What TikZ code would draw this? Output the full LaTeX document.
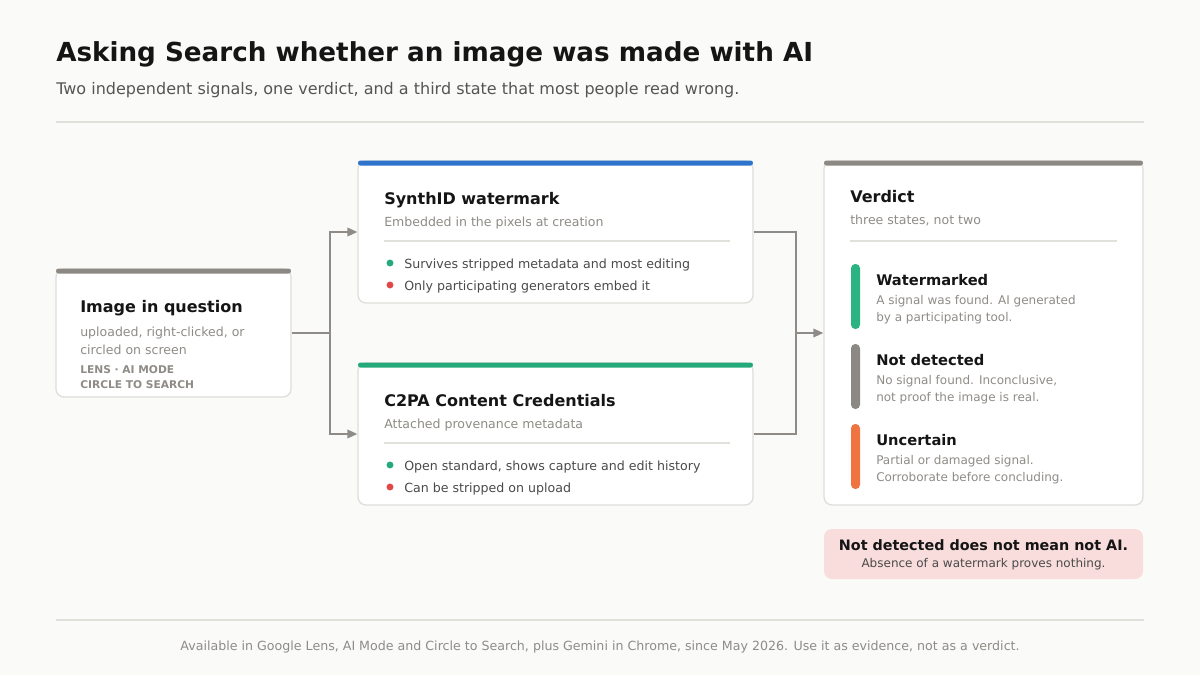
\documentclass[tikz,border=0pt]{standalone}
\usepackage{fontspec}
\setmainfont{DejaVu Sans}
\usetikzlibrary{arrows.meta}
\definecolor{bg}{HTML}{FAFAF8}
\definecolor{rulec}{HTML}{E2E0DB}
\definecolor{border}{HTML}{E0DED9}
\definecolor{ink}{HTML}{151515}
\definecolor{subc}{HTML}{555555}
\definecolor{muted}{HTML}{8F8C87}
\definecolor{bodyc}{HTML}{4A4A4A}
\definecolor{linec}{HTML}{8F8C87}
\definecolor{bargray}{HTML}{8C8984}
\definecolor{blueb}{HTML}{2F74CC}
\definecolor{greenb}{HTML}{24A97B}
\definecolor{greens}{HTML}{2BB383}
\definecolor{redd}{HTML}{E04848}
\definecolor{orangeb}{HTML}{EE7442}
\definecolor{pinkb}{HTML}{F9DCDC}
\tikzset{
  card/.style={draw=border, fill=white, rounded corners=6pt, line width=1pt, inner sep=0pt},
  ttl/.style={anchor=mid west, text=ink, font=\bfseries\fontsize{12}{14}\selectfont, inner sep=0pt, yshift=-2.25pt},
  sttl/.style={anchor=mid west, text=ink, font=\bfseries\fontsize{11}{13}\selectfont, inner sep=0pt, yshift=-2.25pt},
  desc/.style={anchor=mid west, text=muted, font=\fontsize{9.4}{12}\selectfont, inner sep=0pt, yshift=-1.5pt},
  sdesc/.style={anchor=mid west, text=muted, font=\fontsize{9}{11}\selectfont, inner sep=0pt, yshift=-1.5pt},
  body/.style={anchor=mid west, text=bodyc, font=\fontsize{9.45}{12}\selectfont, inner sep=0pt, yshift=-1.5pt},
  tag/.style={anchor=mid west, text=muted, font=\bfseries\fontsize{8}{9}\selectfont, inner sep=0pt, yshift=-0.75pt},
  conn/.style={draw=linec, line width=1.1pt},
  arr/.style={conn, -{Triangle[length=7.5pt,width=6.5pt]}},
}
\begin{document}
\begin{tikzpicture}[x=0.75pt,y=-0.75pt]
\fill[bg] (0,0) rectangle (1200,675);
\useasboundingbox (0,0) rectangle (1200,675);
% header
\node[anchor=mid west, text=ink, font=\bfseries\fontsize{19.65}{22}\selectfont, inner sep=0pt, yshift=-3.75pt] (title) at (56,53) {Asking Search whether an image was made with AI};
\node[anchor=mid west, text=subc, font=\fontsize{12}{14}\selectfont, inner sep=0pt, yshift=-2.25pt] (subtitle) at (56,88) {Two independent signals, one verdict, and a third state that most people read wrong.};
\draw[rulec, line width=1pt] (56,122) -- (1144,122);
\draw[rulec, line width=1pt] (56,620) -- (1144,620);
\node[anchor=mid, text=muted, font=\fontsize{9.47}{12}\selectfont, inner sep=0pt, yshift=-1.5pt] (footer) at (600,645) {Available in Google Lens, AI Mode and Circle to Search, plus Gemini in Chrome, since May 2026. Use it as evidence, not as a verdict.};

% cards
\node[card, minimum width=235*0.75pt, minimum height=128*0.75pt] (img) at (173.5,333) {};
\node[card, minimum width=395*0.75pt, minimum height=142*0.75pt] (synth) at (555.5,232) {};
\node[card, minimum width=395*0.75pt, minimum height=142*0.75pt] (c2pa) at (555.5,434) {};
\node[card, minimum width=319*0.75pt, minimum height=344*0.75pt] (verdict) at (983.5,333) {};
\node[fill=pinkb, rounded corners=6pt, minimum width=319*0.75pt, minimum height=50*0.75pt, inner sep=0pt] (note) at (983.5,554) {};

% top bars
\fill[bargray, rounded corners=1.8pt] (56,268.5) rectangle (291,273.5);
\fill[blueb, rounded corners=1.8pt] (358,160.5) rectangle (753,165.5);
\fill[greenb, rounded corners=1.8pt] (358,362.5) rectangle (753,367.5);
\fill[bargray, rounded corners=1.8pt] (824,160.5) rectangle (1143,165.5);

% image card text
\node[ttl] (imgt) at (80,306) {Image in question};
\node[desc] (imgd1) at (80,331) {uploaded, right-clicked, or};
\node[desc] (imgd2) at (80,349) {circled on screen};
\node[tag] (imgg1) at (80,369) {LENS · AI MODE};
\node[tag] (imgg2) at (80,384) {CIRCLE TO SEARCH};

% synth text
\node[ttl] (synt) at (384,198) {SynthID watermark};
\node[desc] (synd) at (384,221) {Embedded in the pixels at creation};
\draw[rulec, line width=1pt] (384,241) -- (730,241);
\fill[greenb] (390,263) circle[radius=2.6pt];
\node[body] (synb1) at (404,263) {Survives stripped metadata and most editing};
\fill[redd] (390,285) circle[radius=2.6pt];
\node[body] (synb2) at (404,285) {Only participating generators embed it};

% c2pa text
\node[ttl] (c2t) at (384,400) {C2PA Content Credentials};
\node[desc] (c2d) at (384,423) {Attached provenance metadata};
\draw[rulec, line width=1pt] (384,443) -- (730,443);
\fill[greenb] (390,465) circle[radius=2.6pt];
\node[body] (c2b1) at (404,465) {Open standard, shows capture and edit history};
\fill[redd] (390,487) circle[radius=2.6pt];
\node[body] (c2b2) at (404,487) {Can be stripped on upload};

% verdict text
\node[ttl] (vt) at (850,196) {Verdict};
\node[desc] (vd) at (850,219) {three states, not two};
\draw[rulec, line width=1pt] (850,241) -- (1117,241);
\fill[greens, rounded corners=3.2pt] (851,264) rectangle (860,329);
\node[sttl] (s1t) at (876,279) {Watermarked};
\node[sdesc] (s1a) at (876,299) {A signal was found. AI generated};
\node[sdesc] (s1b) at (876,316) {by a participating tool.};
\fill[bargray, rounded corners=3.2pt] (851,344) rectangle (860,409);
\node[sttl] (s2t) at (876,359) {Not detected};
\node[sdesc] (s2a) at (876,379) {No signal found. Inconclusive,};
\node[sdesc] (s2b) at (876,396) {not proof the image is real.};
\fill[orangeb, rounded corners=3.2pt] (851,424) rectangle (860,489);
\node[sttl] (s3t) at (876,439) {Uncertain};
\node[sdesc] (s3a) at (876,459) {Partial or damaged signal.};
\node[sdesc] (s3b) at (876,476) {Corroborate before concluding.};

% note text
\node[anchor=mid, text=ink, font=\bfseries\fontsize{10.75}{13}\selectfont, inner sep=0pt, yshift=-1.5pt] (nt) at (983.5,545) {Not detected does not mean not AI.};
\node[anchor=mid, text=bodyc, font=\fontsize{9}{11}\selectfont, inner sep=0pt, yshift=-0.75pt] (nd) at (983.5,563) {Absence of a watermark proves nothing.};

% connectors
\coordinate (j1) at (330,333);
\coordinate (j2) at (796,333);
\draw[conn] (img.east) -- (j1);
\draw[arr] (j1) |- (synth.west);
\draw[arr] (j1) |- (c2pa.west);
\draw[conn] (synth.east) -| (j2);
\draw[conn] (c2pa.east) -| (j2);
\draw[arr] (j2) -- (verdict.west);
\end{tikzpicture}
\end{document}
